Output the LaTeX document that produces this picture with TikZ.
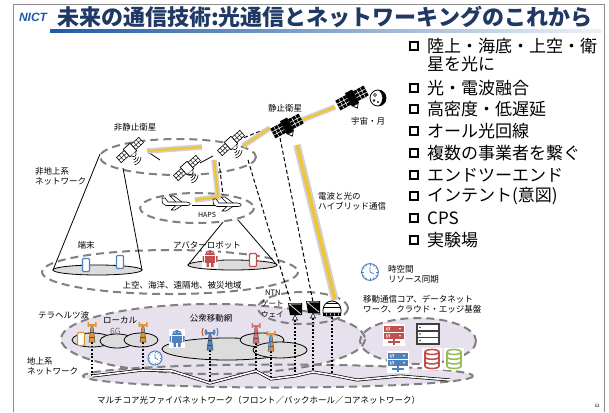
\documentclass[tikz,border=0pt]{standalone}
\usepackage{fontspec}
\setmainfont{Noto Sans CJK JP}
\newfontfamily\logofont{Liberation Sans}
\usetikzlibrary{calc}

\definecolor{navy}{HTML}{1F3864}
\definecolor{nictblue}{HTML}{1E5BA8}
\definecolor{dashgray}{HTML}{808080}
\definecolor{lav}{HTML}{E6E1ED}
\definecolor{cellgray}{HTML}{DCDCDC}
\definecolor{gold}{HTML}{F4C430}
\definecolor{glow}{HTML}{CFCFCF}
\definecolor{orng}{HTML}{E59233}
\definecolor{rred}{HTML}{C0504D}
\definecolor{pinkred}{HTML}{E07070}
\definecolor{bblue}{HTML}{4F81BD}
\definecolor{ggreen}{HTML}{9BBB59}
\definecolor{dkgray}{HTML}{3F3F3F}
\definecolor{framegray}{HTML}{8C8C8C}

\tikzset{
  zonedash/.style={draw=dashgray, line width=2pt, dash pattern=on 8pt off 5pt},
  conel/.style={draw=black, line width=0.8pt},
  footprint/.style={draw=black, fill=cellgray, line width=0.8pt},
  beam/.style={draw=gold, line width=2.2pt, preaction={draw=glow, line width=5.5pt}},
  hybrid/.style={draw=gold, line width=3.4pt, preaction={draw=glow, line width=7.5pt}},
  rflink/.style={draw=black, line width=1pt, dash pattern=on 4pt off 2.5pt},
  tap/.style={draw=black, line width=1.8pt, dash pattern=on 1.8pt off 1.8pt},
  fiber/.style={draw=black, line width=0.7pt, double=white, double distance=1.6pt},
  lbl/.style={font=\fontsize{8.5}{10}\selectfont, inner sep=0pt},
  bullet/.style={font=\fontsize{17}{20}\selectfont, inner sep=0pt, anchor=west},
  % low-orbit satellite: white panels
  pics/leosat/.style={code={
    \begin{scope}[rotate=42]
      \foreach \s in {-1,1}{
        \draw[fill=white, line width=0.6pt] ({\s*4.5},-3.5) rectangle ({\s*15},3.5);
        \draw[line width=0.4pt] ({\s*8},-3.5) -- ({\s*8},3.5) ({\s*11.5},-3.5) -- ({\s*11.5},3.5) ({\s*4.5},0) -- ({\s*15},0);
      }
      \draw[fill=white, line width=0.7pt] (-4.5,-5) rectangle (4.5,5);
      \draw[fill=white, line width=0.6pt] (-3,5) .. controls (-2,9) and (2,9) .. (3,5);
    \end{scope}
    \foreach \r in {3,5.5,8}
      \draw[line width=0.6pt] (3,7) ++(\r,0) arc[start angle=0, end angle=80, radius=\r];
  }},
  % geostationary satellite: black panels
  pics/geosat/.style={code={
    \begin{scope}[rotate=28]
      \foreach \s in {-1,1}{
        \fill[black] ({\s*4},-5.5) rectangle ({\s*16},5.5);
        \draw[white, line width=0.5pt] ({\s*8},-5.5) -- ({\s*8},5.5) ({\s*12},-5.5) -- ({\s*12},5.5)
          ({\s*4},-1.8) -- ({\s*16},-1.8) ({\s*4},1.8) -- ({\s*16},1.8);
      }
      \fill[black] (-4,-7.5) rectangle (4,7.5);
      \draw[fill=white, line width=0.7pt] (-3,7.5) -- (0,11.5) -- (3,7.5) -- cycle;
    \end{scope}
  }},
  pics/plane/.style={code={
    \draw[fill=white, line width=0.6pt, line join=round] (-1,-1) -- (-7,-7) -- (-3,-7) -- (5,-1);
    \draw[fill=white, line width=0.6pt, line join=round]
      (-15,-5) -- (-12,-5) -- (-9,-1) -- (9,-1) .. controls (14,-1) and (15,2.5) .. (10,2.5)
      -- (-11,2.5) .. controls (-14,2.5) and (-15,0) .. cycle;
    \draw[fill=white, line width=0.6pt, line join=round] (-1,2.5) -- (-6,7) -- (-2,7) -- (5,2.5);
  }},
  pics/moon/.style={code={
    \draw[fill=white, line width=0.8pt] (0,0) circle (8);
    \fill[black] (0,-8) arc[start angle=270, end angle=450, radius=8] .. controls (6,4) and (6,-4) .. (0,-8);
    \draw[line width=0.4pt] (-3,-3) circle (1.5) (-4,2.5) circle (1) (0,4) circle (0.8);
  }},
  pics/tower/.style={code={
    \draw[fill=#1, draw=black!70, line width=0.5pt] (-3,0) -- (-0.8,-17) -- (0.8,-17) -- (3,0) -- cycle;
    \draw[black!70, line width=0.4pt] (-2.2,-5) -- (2.2,-5) (-1.6,-10) -- (1.6,-10);
    \draw[#1, line width=1.2pt] (-4,-17) -- (4,-17);
    \fill[#1] (-4.5,-20) rectangle (-3,-15) (3,-20) rectangle (4.5,-15);
  }},
  pics/droid/.style={code={
    \fill[white] (-8,-9) rectangle (8,10);
    \fill[#1] (-5,-3) arc[start angle=180, end angle=360, radius=5] -- cycle;
    \fill[#1] (-5,-2) rectangle (5,5);
    \fill[#1] (-7.5,-2) rectangle (-6,4) (6,-2) rectangle (7.5,4);
    \fill[#1] (-3.5,5) rectangle (-1.2,9) (1.2,5) rectangle (3.5,9);
    \fill[white] (-2,-5.5) circle (0.7) (2,-5.5) circle (0.7);
  }},
  pics/phone/.style={code={
    \draw[#1, fill=white, line width=1.1pt, rounded corners=1pt] (-3.5,-6.5) rectangle (3.5,6.5);
  }},
  pics/clock/.style={code={
    \draw[fill=white, draw=bblue, line width=1pt] (0,0) circle (7);
    \foreach \a in {0,30,...,330} \draw[bblue, line width=0.5pt] (\a:5.3) -- (\a:6.3);
    \draw[bblue, line width=0.8pt] (0,-4.5) -- (0,0) -- (3,1.5);
  }},
  pics/dish/.style={code={
    \draw[fill=white, line width=0.6pt] (-2.5,10) -- (0,5) -- (2.5,10) -- cycle;
    \fill[black] (-7,-7) -- (7,-7) -- (7,5) -- (-5,5) -- cycle;
    \draw[white, line width=0.7pt] (-6,-6) -- (6,4) (-6,-6) -- (6,-6);
  }},
  pics/dome/.style={code={
    \draw[fill=white, line width=0.8pt] (-9,3) -- (-9,0) arc[start angle=180, end angle=360, radius=9] -- (9,3) -- cycle;
    \draw[line width=0.6pt] (-8.5,-3) -- (8.5,-3) (-6,-6.5) -- (6,-6.5);
    \fill[black] (-9,3) rectangle (9,5.5);
    \draw[white, line width=0.5pt] (-6,3) -- (-5,5.5) (-2,3) -- (-1,5.5) (2,3) -- (3,5.5) (6,3) -- (7,5.5);
  }},
  pics/rack/.style={code={
    \fill[white] (-11,-11) rectangle (11,11);
    \foreach \yy in {-9,-2}{
      \fill[#1] (-10,\yy) rectangle (10,\yy+5.5);
      \draw[white, line width=0.5pt] (-8,\yy+4.5) -- (-7,\yy+1) (-6.5,\yy+4.5) -- (-5.5,\yy+1) (-5,\yy+4.5) -- (-4,\yy+1);
      \fill[white] (6,\yy+2.75) circle (0.8);
    }
    \draw[#1, line width=1.2pt] (0,3.5) -- (0,10) (-6,7) -- (6,7);
  }},
  pics/darkrack/.style={code={
    \fill[dkgray] (-12,-11) rectangle (12,11);
    \foreach \yy in {-9,-2.5,4}{
      \fill[white] (-10,\yy) rectangle (10,\yy+5);
      \fill[dkgray] (-8,\yy+2.5) circle (0.8);
    }
  }},
  pics/dbase/.style={code={
    \fill[white] (-10,-11) rectangle (10,11);
    \draw[#1, line width=1.6pt] (-7,-7) -- (-7,7) arc[start angle=180, end angle=0, x radius=7, y radius=2.5] -- (7,-7);
    \draw[#1, line width=1.6pt] (0,-7) ellipse [x radius=7, y radius=2.5];
    \draw[#1, line width=1.6pt] (-7,-2.2) arc[start angle=180, end angle=0, x radius=7, y radius=2.5];
    \draw[#1, line width=1.6pt] (-7,2.4) arc[start angle=180, end angle=0, x radius=7, y radius=2.5];
  }},
}

\begin{document}
\begin{tikzpicture}[x=1pt, y=-1pt]
\useasboundingbox (0,0) rectangle (609,412);
\fill[white] (0,0) rectangle (609,412);

% slide frame and heading
\draw[framegray, line width=0.8pt] (13,412) -- (13,4) -- (604,4) -- (604,412);
\shade[left color=nictblue, right color=nictblue!8] (50,30) rectangle (602,32.5);
\node[font=\logofont\bfseries\itshape\fontsize{12}{12}\selectfont, text=nictblue, inner sep=0pt] (logo) at (33,17) {NICT};
\node[font=\fontsize{22}{24}\selectfont\bfseries, text=navy, inner sep=0pt, anchor=west] (title) at (57,17)
  {未来の通信技術:光通信とネットワーキングのこれから};

% key points
\foreach \yy in {46,88,109,131,153,175,196,218,240}
  \draw[line width=1.8pt] (410,\yy-4) rectangle (418,\yy+4);
\node[bullet] (b1) at (427,46) {陸上・海底・上空・衛};
\node[bullet] (b1b) at (427,64) {星を光に};
\node[bullet] (b2) at (427,88) {光・電波融合};
\node[bullet] (b3) at (427,109) {高密度・低遅延};
\node[bullet] (b4) at (427,131) {オール光回線};
\node[bullet] (b5) at (427,153) {複数の事業者を繋ぐ};
\node[bullet] (b6) at (427,175) {エンドツーエンド};
\node[bullet] (b7) at (427,196) {インテント(意図)};
\node[bullet] (b8) at (427,218) {CPS};
\node[bullet] (b9) at (427,240) {実験場};

% ---------- terrestrial zones ----------
\fill[lav] (213,339) ellipse [x radius=152, y radius=35];
\fill[lav] (418,341) ellipse [x radius=58, y radius=23];
\fill[lav] (278,376) ellipse [x radius=195, y radius=11.5];
\draw[zonedash] (213,339) ellipse [x radius=152, y radius=35];
\draw[zonedash] (418,341) ellipse [x radius=58, y radius=23];
\draw[zonedash] (278,376) ellipse [x radius=195, y radius=11.5];

% ---------- non-terrestrial zones ----------
\draw[zonedash] (170,272) ellipse [x radius=128, y radius=22];
\draw[zonedash] (178,157) ellipse [x radius=78, y radius=18];
\draw[zonedash] (197,208) ellipse [x radius=57, y radius=15];
\draw[zonedash] (303,308) ellipse [x radius=45, y radius=16];

% key positions
\coordinate (leo1) at (130,150);
\coordinate (leo2) at (187,168);
\coordinate (leo3) at (231,143);
\coordinate (geo) at (287,126);
\coordinate (deep) at (352,98);
\coordinate (moon) at (378,98);
\coordinate (plane1) at (177,203);
\coordinate (plane2) at (228,204);
\coordinate (gw1) at (295,310);
\coordinate (gw2) at (313,308);
\coordinate (gw3) at (332,310);

% coverage cones
\draw[conel] (100,154) -- (53,270);
\draw[conel] (123,168) -- (142,270);
\draw[footprint] (97.5,270) ellipse [x radius=44.5, y radius=5];
\draw[conel] (223,222) -- (188,265);
\draw[conel] (238,220) -- (277,265);
\draw[footprint] (232.5,265) ellipse [x radius=44.5, y radius=5];

% radio links
\draw[rflink] ($(leo3)+(7,-3)$) -- ($(geo)+(-19,2)$);
\draw[rflink] ($(leo2)+(32,-6)$) -- ($(plane2)+(-5,-9)$);
\draw[rflink] ($(leo3)+(17,17)$) -- ($(gw1)+(-4,-7)$);
\draw[rflink] ($(geo)+(-7,12)$) -- ($(gw2)+(0,-6)$);
\draw[line width=0.8pt] ($(leo1)+(18,2)$) -- ($(leo1)+(30,10)$);
\draw[line width=0.8pt] ($(leo2)+(13,-5)$) -- ($(leo3)+(-18,13)$);
\draw[line width=0.8pt] ($(plane1)+(15,2)$) -- ($(plane2)+(-13,1)$);

% optical links
\draw[beam] ($(leo1)+(17,1)$) -- ($(leo3)+(-29,4)$);
\draw[beam] ($(leo3)+(12,3)$) -- ($(geo)+(-17,2)$);
\draw[beam] ($(geo)+(15,-6)$) -- ($(deep)+(-17,9)$);
\draw[beam] ($(leo2)+(27,-8)$) -- ($(plane2)+(-10,-7)$) -- ($(plane1)+(18,-3)$);
\draw[hybrid] ($(geo)+(10,19)$) -- ($(gw3)+(3,-10)$);

% space segment
\pic at (leo1) {leosat};
\pic at (leo2) {leosat};
\pic at (leo3) {leosat};
\pic at (geo) {geosat};
\pic at (deep) {geosat};
\pic at (moon) {moon};
\pic at (plane1) {plane};
\pic at (plane2) {plane};

% user equipment under the cones
\pic at (86,265) {phone=bblue};
\pic at (120,262) {phone=bblue};
\pic at (210,258) {droid=rred};
\pic at (253,260) {phone=rred};

% ---------- access cells ----------
\draw[footprint] (92,340) ellipse [x radius=20, y radius=7];
\draw[footprint] (117,341) ellipse [x radius=17, y radius=7];
\draw[footprint] (141,340) ellipse [x radius=17, y radius=7];
\draw[footprint] (227,349) ellipse [x radius=65, y radius=11];
\draw[footprint] (262,340) ellipse [x radius=22, y radius=7];
\draw[footprint] (280,350) ellipse [x radius=27, y radius=8];

% fibre backbone
\coordinate (f1) at (92,376);
\coordinate (f2) at (143,370);
\coordinate (fp) at (210,383);
\coordinate (f3) at (256,371);
\coordinate (f4) at (271,379);
\coordinate (fg1) at (295,376);
\coordinate (fg2) at (313,372);
\coordinate (fg3) at (332,375);
\coordinate (t1) at (92,342);
\coordinate (t2) at (143,342);
\coordinate (tp) at (210,350);
\coordinate (t3) at (256,343);
\coordinate (t4) at (271,351);

\draw[tap] (t1) -- (f1);
\draw[tap] (t2) -- (f2);
\draw[tap] (tp) -- (fp);
\draw[tap] (t3) -- (f3);
\draw[tap] (t4) -- (f4);
\draw[tap] ($(gw1)+(0,10)$) -- (fg1);
\draw[tap] ($(gw2)+(0,10)$) -- (fg2);
\draw[tap] ($(gw3)+(0,7)$) -- (fg3);
\draw[fiber] (f1) -- (f2) -- (172,371) -- (fp) -- (f3) -- (f4) -- (fg1) -- (fg2) -- (fg3)
  -- (357,380) -- (400,376) -- (450,380);

% radio sites
\pic at (t1) {tower=orng};
\pic at (t2) {tower=orng};
\pic at (t3) {tower=pinkred};
\pic at (t4) {tower=orng};
\draw[bblue, line width=1pt] ($(t4)+(-1,-2)$) -- ($(t4)+(-1,-16)$);
\pic at (tp) {tower=bblue};
\foreach \r in {5,8}{
  \draw[rred, line width=1pt] ($(tp)+(0,-18)$) ++(150:\r) arc[start angle=150, end angle=210, radius=\r];
  \draw[bblue, line width=1pt] ($(tp)+(0,-18)$) ++(-30:\r) arc[start angle=-30, end angle=30, radius=\r];
}
\pic at (81,339) {phone=orng};
\pic at (177,338) {droid=bblue};
\pic at (155,358) {clock};

% NTN gateway
\pic at (gw1) {dish};
\pic at (gw2) {dish};
\pic at (gw3) {dome};

% core / cloud
\pic at (394,335) {rack=rred};
\pic at (428,334) {darkrack};
\pic at (398,362) {rack=bblue};
\pic at (432,359) {dbase=rred};
\pic at (454,359) {dbase=ggreen};
\pic[scale=1.2] at (370,272) {clock};

% ---------- labels ----------
\node[lbl] (lgeo) at (285,108) {静止衛星};
\node[lbl] (lleo) at (135,127) {非静止衛星};
\node[lbl] (lmoon) at (368,121) {宇宙・月};
\node[lbl, anchor=west, align=left] (lntn) at (35,176) {非地上系\\ネットワーク};
\node[lbl, font=\fontsize{7}{8}\selectfont] (lhaps) at (207,215) {HAPS};
\node[lbl] (lterm) at (86,245) {端末};
\node[lbl] (lavatar) at (207,245) {アバターロボット};
\node[lbl] (larea) at (182,285) {上空、海洋、遠隔地、被災地域};
\node[lbl, anchor=west, align=left] (lhyb) at (318,201) {電波と光の\\ハイブリッド通信};
\node[lbl, anchor=west, align=left] (lsync) at (388,274) {時空間\\リソース同期};
\node[lbl, anchor=west, align=left] (lcore) at (363,304) {移動通信コア、データネット\\ワーク、クラウド・エッジ基盤};
\node[lbl, anchor=west, align=left, font=\fontsize{7.5}{11}\selectfont] (lgw) at (261,304) {\hspace*{4pt}NTN\\ゲート\\ウェイ};
\node[lbl, anchor=west] (lthz) at (38,315) {テラヘルツ波};
\node[lbl, anchor=west] (llocal) at (103,320) {ローカル};
\node[lbl, anchor=west, text=black!60] (l6g) at (110,331) {6G};
\node[lbl] (lpub) at (211,318) {公衆移動網};
\node[lbl, anchor=west, align=left] (lterr) at (27,366) {地上系\\ネットワーク};
\node[lbl, anchor=west] (lfiber) at (97,400) {マルチコア光ファイバネットワーク（フロント／バックホール／コアネットワーク）};
\node[lbl, font=\fontsize{4.5}{5}\selectfont] (page) at (597,406) {52};
\end{tikzpicture}
\end{document}
